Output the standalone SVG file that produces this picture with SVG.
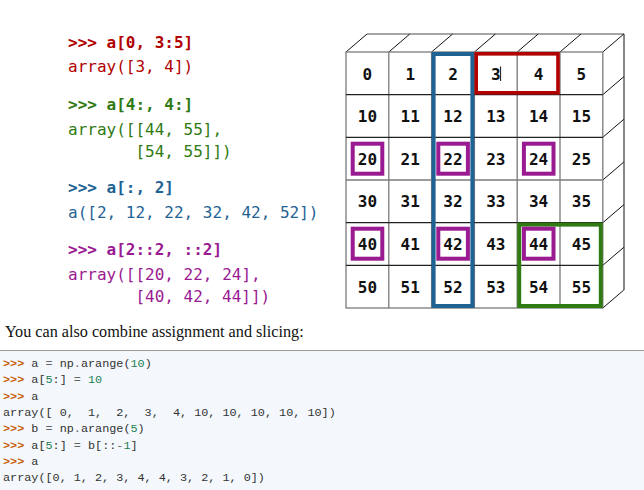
<svg xmlns="http://www.w3.org/2000/svg" width="644" height="490" viewBox="0 0 644 490">
<style>
.code{font-family:"DejaVu Sans Mono",monospace;font-size:16px}
.b{font-weight:bold}
.red{fill:#b00000}.grn{fill:#2f7a12}.blu{fill:#1f6394}.pur{fill:#9a1a92}
.num{font-family:"DejaVu Sans Mono",monospace;font-size:16px;font-weight:bold;fill:#111;text-anchor:middle}
.cell{fill:#fff;stroke:#7a7a7a;stroke-width:1.3}
.edge{stroke:#111;stroke-width:1;fill:none}
.gedge{stroke:#888;stroke-width:1.4;fill:none}
.pre{font-family:"Liberation Mono",monospace;font-size:11.8px;fill:#333;white-space:pre}
.pr{fill:#c65d09;font-weight:bold}
.nm{fill:#208050}
.op{fill:#666}
</style>
<rect width="644" height="490" fill="#fff"/>

<g id="code-examples">
<text class="code b red" x="68" y="48">&gt;&gt;&gt; a[0, 3:5]</text>
<text class="code red" x="68" y="72">array([3, 4])</text>
<text class="code b grn" x="68" y="110">&gt;&gt;&gt; a[4:, 4:]</text>
<text class="code grn" x="68" y="135">array([[44, 55],</text>
<text class="code grn" x="135.4" y="157">[54, 55]])</text>
<text class="code b blu" x="68" y="193">&gt;&gt;&gt; a[:, 2]</text>
<text class="code blu" x="68" y="218">a([2, 12, 22, 32, 42, 52])</text>
<text class="code b pur" x="68" y="255">&gt;&gt;&gt; a[2::2, ::2]</text>
<text class="code pur" x="68" y="280">array([[20, 22, 24],</text>
<text class="code pur" x="135.4" y="302">[40, 42, 44]])</text>
</g>

<g id="array-grid">
<g id="cube-faces">
<line class="gedge" x1="367" y1="34" x2="624" y2="34"/>
<line class="edge" x1="624" y1="34" x2="624" y2="290"/>
<path class="edge" d="M346,52L367,34M388.8,52L409.8,34M431.6,52L452.6,34M474.4,52L495.4,34M517.2,52L538.2,34M560,52L581,34M602.8,52L623.8,34"/>
<path class="edge" d="M602.8,94.7L623.8,76.7M602.8,137.3L623.8,119.3M602.8,180L623.8,162M602.8,222.7L623.8,204.7M602.8,265.3L623.8,247.3M602.8,308L623.8,290"/>
</g>
<g id="cells">
<rect class="cell" x="346" y="52" width="256.8" height="256"/>
<path stroke="#7a7a7a" stroke-width="1.3" fill="none" d="M388.8,52V308M431.6,52V308M474.4,52V308M517.2,52V308M560,52V308"/>
<path stroke="#222" stroke-width="1.2" fill="none" d="M346,94.7H602.8M346,137.3H602.8M346,222.7H602.8M346,265.3H602.8"/>
<path stroke="#7a7a7a" stroke-width="1.3" fill="none" d="M346,180H602.8"/>
</g>
<g id="numbers">
<text class="num" x="367.4" y="79.5">0</text><text class="num" x="410.2" y="79.5">1</text><text class="num" x="453" y="79.5">2</text><text class="num" x="495.8" y="79.5">3</text><text class="num" x="538.6" y="79.5">4</text><text class="num" x="581.4" y="79.5">5</text>
<text class="num" x="367.4" y="122">10</text><text class="num" x="410.2" y="122">11</text><text class="num" x="453" y="122">12</text><text class="num" x="495.8" y="122">13</text><text class="num" x="538.6" y="122">14</text><text class="num" x="581.4" y="122">15</text>
<text class="num" x="367.4" y="164.7">20</text><text class="num" x="410.2" y="164.7">21</text><text class="num" x="453" y="164.7">22</text><text class="num" x="495.8" y="164.7">23</text><text class="num" x="538.6" y="164.7">24</text><text class="num" x="581.4" y="164.7">25</text>
<text class="num" x="367.4" y="207.3">30</text><text class="num" x="410.2" y="207.3">31</text><text class="num" x="453" y="207.3">32</text><text class="num" x="495.8" y="207.3">33</text><text class="num" x="538.6" y="207.3">34</text><text class="num" x="581.4" y="207.3">35</text>
<text class="num" x="367.4" y="250">40</text><text class="num" x="410.2" y="250">41</text><text class="num" x="453" y="250">42</text><text class="num" x="495.8" y="250">43</text><text class="num" x="538.6" y="250">44</text><text class="num" x="581.4" y="250">45</text>
<text class="num" x="367.4" y="292.7">50</text><text class="num" x="410.2" y="292.7">51</text><text class="num" x="453" y="292.7">52</text><text class="num" x="495.8" y="292.7">53</text><text class="num" x="538.6" y="292.7">54</text><text class="num" x="581.4" y="292.7">55</text>
</g>
<line x1="500.6" y1="66.5" x2="500.6" y2="81" stroke="#111" stroke-width="1"/>
<g id="highlights" fill="none">
<rect x="433.6" y="54" width="38.8" height="252" stroke="#1f6394" stroke-width="4"/>
<rect x="476.2" y="53.8" width="81.8" height="39" stroke="#b00000" stroke-width="3.6"/>
<rect x="519.2" y="224.6" width="81.6" height="81.4" stroke="#2f7a12" stroke-width="4"/>
<g stroke="#9a1a92" stroke-width="4">
<rect x="352.7" y="143.7" width="29.6" height="30"/>
<rect x="438.3" y="143.7" width="29.6" height="30"/>
<rect x="523.9" y="143.7" width="29.6" height="30"/>
<rect x="352.7" y="228.7" width="29.6" height="30"/>
<rect x="438.3" y="228.7" width="29.6" height="30"/>
<rect x="523.9" y="228.7" width="29.6" height="30"/>
</g>
</g>
</g>

<g id="assignment-example">
<text x="5" y="337" font-family="'Liberation Serif',serif" font-size="16.2" fill="#111">You can also combine assignment and slicing:</text>
<rect x="0" y="350" width="644" height="140" fill="#f4f8fc"/>
<line x1="0" y1="350.5" x2="644" y2="350.5" stroke="#999" stroke-width="1"/>
<text class="pre" x="3" y="367"><tspan class="pr">&gt;&gt;&gt;</tspan> a <tspan class="op">=</tspan> np<tspan class="op">.</tspan>arange(<tspan class="nm">10</tspan>)</text>
<text class="pre" x="3" y="383.3"><tspan class="pr">&gt;&gt;&gt;</tspan> a[<tspan class="nm">5</tspan>:] <tspan class="op">=</tspan> <tspan class="nm">10</tspan></text>
<text class="pre" x="3" y="399.6"><tspan class="pr">&gt;&gt;&gt;</tspan> a</text>
<text class="pre" x="3" y="415.9">array([ 0,  1,  2,  3,  4, 10, 10, 10, 10, 10])</text>
<text class="pre" x="3" y="432.2"><tspan class="pr">&gt;&gt;&gt;</tspan> b <tspan class="op">=</tspan> np<tspan class="op">.</tspan>arange(<tspan class="nm">5</tspan>)</text>
<text class="pre" x="3" y="448.5"><tspan class="pr">&gt;&gt;&gt;</tspan> a[<tspan class="nm">5</tspan>:] <tspan class="op">=</tspan> b[::<tspan class="op">-</tspan><tspan class="nm">1</tspan>]</text>
<text class="pre" x="3" y="464.8"><tspan class="pr">&gt;&gt;&gt;</tspan> a</text>
<text class="pre" x="3" y="481.1">array([0, 1, 2, 3, 4, 4, 3, 2, 1, 0])</text>
</g>
</svg>
